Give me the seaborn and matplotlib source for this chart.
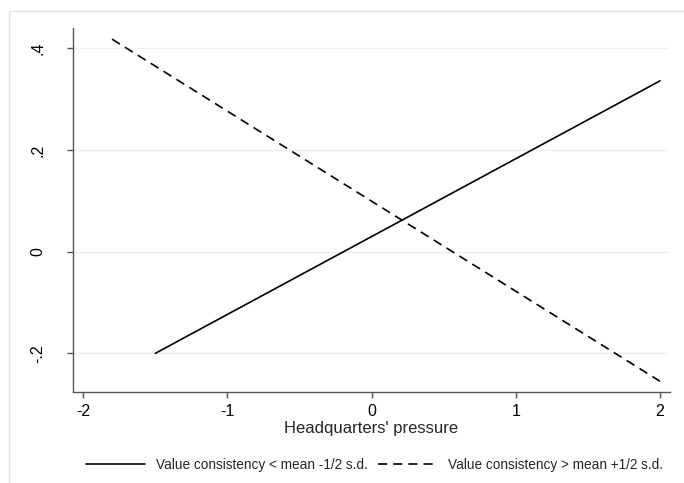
import pandas as pd
import matplotlib
matplotlib.use("Agg")
import matplotlib.pyplot as plt
from matplotlib.patches import Rectangle
import seaborn as sns

# ------------------------------------------------------------
# data
# ------------------------------------------------------------
GROUP_LOW = "Value consistency < mean -1/2 s.d."
GROUP_HIGH = "Value consistency > mean +1/2 s.d."

pressure_low = [-1.5, 2.0]
effect_low = [-0.200, 0.336]
pressure_high = [-1.8, 2.0]
effect_high = [0.418, -0.255]

x_ticks = [-2, -1, 0, 1, 2]
x_tick_labels = ["-2", "-1", "0", "1", "2"]
y_ticks = [-0.2, 0.0, 0.2, 0.4]
y_tick_labels = ["-.2", "0", ".2", ".4"]

df = pd.concat([
    pd.DataFrame({"pressure": pressure_low, "effect": effect_low, "group": GROUP_LOW}),
    pd.DataFrame({"pressure": pressure_high, "effect": effect_high, "group": GROUP_HIGH}),
], ignore_index=True)

# ------------------------------------------------------------
# style
# ------------------------------------------------------------
sns.set_theme(style="white")
plt.rcParams["font.family"] = ["Liberation Sans", "DejaVu Sans"]
AXIS_COL = "#555555"
GRID_COL = "#EAF2F3"

fig = plt.figure(figsize=(6.84, 4.83), dpi=100)
ax = fig.add_axes([0.1063, 0.1874, 0.8732, 0.7547])

# outer graph region border (top/left visible, rest cropped)
fig.patches.append(Rectangle((9 / 684, -0.1), 1.0, 1 - 11 / 483 + 0.1,
                             transform=fig.transFigure, fill=False,
                             edgecolor="#DDE6E8", lw=1.0))

sns.lineplot(data=df, x="pressure", y="effect", style="group",
             style_order=[GROUP_LOW, GROUP_HIGH],
             dashes={GROUP_LOW: "", GROUP_HIGH: (5.5, 3.6)},
             color="black", lw=1.2, estimator=None, sort=False, ax=ax)

ax.set_xlim(-2.073, 2.069)
ax.set_ylim(-0.277, 0.440)
ax.set_xticks(x_ticks, x_tick_labels)
ax.set_yticks(y_ticks, y_tick_labels)
ax.yaxis.grid(True, color=GRID_COL, lw=1.0)
ax.xaxis.grid(False)
ax.set_axisbelow(True)

for side in ["top", "right"]:
    ax.spines[side].set_visible(False)
for side in ["left", "bottom"]:
    ax.spines[side].set_color(AXIS_COL)
    ax.spines[side].set_linewidth(1.0)

ax.tick_params(axis="both", direction="out", length=4.5, width=1.0,
               color=AXIS_COL, labelcolor="black", labelsize=11.5)
ax.tick_params(axis="x", bottom=True, pad=4)
ax.tick_params(axis="y", left=True, pad=15, labelrotation=90)
for lab in ax.get_yticklabels():
    lab.set_va("center")

ax.set_xlabel("Headquarters' pressure", fontsize=12, labelpad=1)
ax.set_ylabel("")

handles, labels = ax.get_legend_handles_labels()
ax.get_legend().remove()
fig.legend(handles, labels, loc="center", bbox_to_anchor=(0.5475, 0.0373),
           ncol=2, frameon=False, fontsize=9.8, handlelength=4.3,
           handletextpad=0.8, columnspacing=0.8, borderpad=0.2)

fig.savefig("out.png", dpi=100)
